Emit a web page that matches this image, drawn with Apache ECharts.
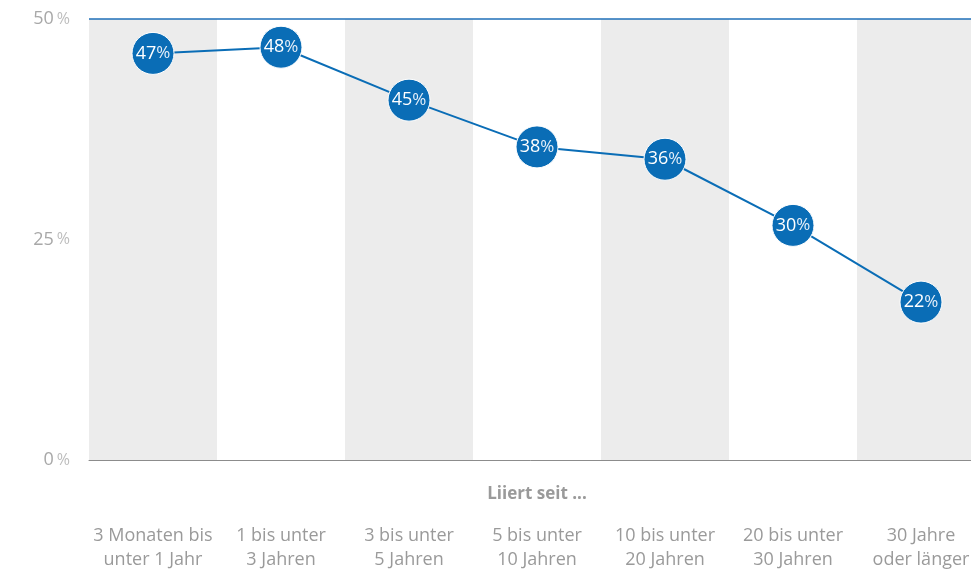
<!DOCTYPE html>
<html>
<head>
<meta charset="utf-8">
<script src="https://cdn.jsdelivr.net/npm/echarts@6/dist/echarts.min.js"></script>
<style>
html,body{margin:0;padding:0;background:#fff;}
#c{width:971px;height:574px;}
</style>
</head>
<body>
<div id="c"></div>
<script>
const categories = [
  "3 Monaten bis\nunter 1 Jahr",
  "1 bis unter\n3 Jahren",
  "3 bis unter\n5 Jahren",
  "5 bis unter\n10 Jahren",
  "10 bis unter\n20 Jahren",
  "20 bis unter\n30 Jahren",
  "30 Jahre\noder länger"
];
const pointValues = [46.1, 46.8, 40.8, 35.5, 34.1, 26.6, 17.9];
const pointLabels = [47, 48, 45, 38, 36, 30, 22];
const yTicks = [0, 25, 50];
const axisTitle = "Liiert seit ...";

const FONT = "'Open Sans', 'Noto Sans', sans-serif";
const chart = echarts.init(document.getElementById('c'), null, {renderer: 'canvas'});
chart.setOption({
  animation: false,
  backgroundColor: '#ffffff',
  grid: {left: 89, top: 19, width: 896, bottom: 114, containLabel: false, outerBoundsMode: 'none'},
  xAxis: {
    type: 'category',
    data: categories,
    boundaryGap: true,
    name: axisTitle,
    nameLocation: 'middle',
    nameGap: 34,
    nameMoveOverlap: false,
    nameTextStyle: {fontFamily: FONT, fontSize: 17, fontWeight: 'bold', color: '#9a9a9a', verticalAlign: 'middle'},
    axisLine: {show: true, lineStyle: {color: '#8c8c8c', width: 1}},
    axisTick: {show: false},
    axisLabel: {
      interval: 0, margin: 64, fontFamily: FONT, fontSize: 18, color: '#9a9a9a', lineHeight: 24, align: 'center'
    },
    splitArea: {show: true, areaStyle: {color: ['#ececec', '#ffffff']}},
    splitLine: {show: false}
  },
  yAxis: {
    type: 'value',
    min: yTicks[0], max: yTicks[yTicks.length - 1], interval: 25,
    axisLine: {show: false},
    axisTick: {show: false},
    axisLabel: {
      margin: 19,
      formatter: function (v) { return '{n|' + v + '}{p|%}'; },
      rich: {
        n: {fontFamily: FONT, fontSize: 18, color: '#a8a8a8'},
        p: {fontFamily: FONT, fontSize: 16, color: '#bdbdbd', padding: [0, 0, 0, 3]}
      }
    },
    splitLine: {show: true, lineStyle: {color: '#dcdcdc', width: 1}}
  },
  series: [{
    type: 'line',
    data: pointValues,
    symbol: 'circle',
    symbolSize: 42,
    lineStyle: {color: '#0a6db6', width: 2},
    itemStyle: {color: '#0a6db6', borderColor: '#ffffff', borderWidth: 1},
    label: {
      show: true,
      position: 'inside',
      formatter: function (p) { return '{n|' + pointLabels[p.dataIndex] + '}{p|%}'; },
      rich: {
        n: {fontFamily: FONT, fontSize: 18, color: '#ffffff'},
        p: {fontFamily: FONT, fontSize: 17, color: '#e4eef8'}
      }
    },
    markLine: {
      silent: true,
      symbol: ['none', 'none'],
      label: {show: false},
      lineStyle: {color: '#1f6fb8', width: 1.5, type: 'solid', opacity: 1},
      emphasis: {disabled: true},
      data: [{yAxis: yTicks[yTicks.length - 1]}]
    },
    z: 3
  }]
});
</script>
</body>
</html>
